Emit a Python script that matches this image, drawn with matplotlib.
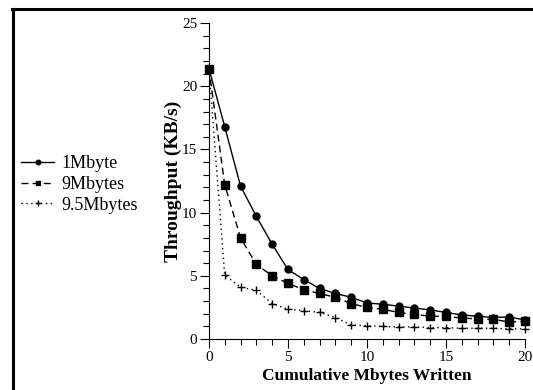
import matplotlib
matplotlib.use("Agg")
import matplotlib.pyplot as plt
from matplotlib.lines import Line2D
from matplotlib.ticker import MultipleLocator

plt.rcParams['font.family'] = ['Liberation Serif', 'DejaVu Serif']

x = list(range(0, 21))
s_1mb = [21.4, 16.8, 12.1, 9.7, 7.5, 5.5, 4.7, 4.0, 3.6, 3.3, 2.85, 2.75, 2.6, 2.45, 2.3, 2.1, 1.9, 1.8, 1.7, 1.75, 1.5]
s_9mb = [21.4, 12.2, 8.0, 5.9, 5.0, 4.4, 3.9, 3.6, 3.3, 2.8, 2.5, 2.35, 2.1, 1.95, 1.8, 1.8, 1.65, 1.6, 1.55, 1.35, 1.4]
s_95mb = [21.4, 5.05, 4.1, 3.85, 2.8, 2.35, 2.25, 2.1, 1.7, 1.1, 1.05, 1.0, 0.95, 0.95, 0.9, 0.9, 0.85, 0.85, 0.85, 0.8, 0.8]
labels = ["1Mbyte", "9Mbytes", "9.5Mbytes"]

fig = plt.figure(figsize=(5.33, 3.9), dpi=100)
ax = fig.add_axes([0.392, 0.1308, 0.593, 0.810])

l1, = ax.plot(x, s_1mb, color='black', lw=1.0, ls='-', marker='o', ms=5, label=labels[0])
l2, = ax.plot(x, s_9mb, color='black', lw=1.0, ls=(0, (5, 3)), marker='s', ms=5.5, label=labels[1])
l3, = ax.plot(x, s_95mb, color='black', lw=1.0, ls=(0, (1, 2.5)), marker='+', ms=6, mew=1.0, label=labels[2])

ax.set_xlim(0, 20)
ax.set_ylim(0, 25)
ax.xaxis.set_major_locator(MultipleLocator(5))
ax.xaxis.set_minor_locator(MultipleLocator(1))
ax.yaxis.set_major_locator(MultipleLocator(5))
ax.yaxis.set_minor_locator(MultipleLocator(1))
for s in ['top', 'right']:
    ax.spines[s].set_visible(False)
ax.tick_params(which='major', direction='out', length=6.5, width=0.8, labelsize=11, pad=2)
ax.tick_params(which='minor', direction='out', length=4, width=0.8)
for ln in (l1, l2, l3):
    ln.set_clip_on(False)

ax.set_xlabel("Cumulative Mbytes Written", fontsize=12.5, fontweight='bold', labelpad=3)
ax.set_ylabel("Throughput (KB/s)", fontsize=14, fontweight='bold', labelpad=0)

fig.legend(handles=[l1, l2, l3], loc='center left', bbox_to_anchor=(0.04, 0.527),
           frameon=False, fontsize=13, handlelength=1.8, handletextpad=0.43,
           labelspacing=0.2, borderaxespad=0, borderpad=0, markerscale=0.65)

# outer frame lines (top and left)
fig.add_artist(Line2D([12/533, 1.0], [1 - 9/390, 1 - 9/390], color='black', lw=2.2, transform=fig.transFigure))
fig.add_artist(Line2D([12.5/533, 12.5/533], [0, 1 - 9/390], color='black', lw=2.2, transform=fig.transFigure))

fig.savefig("out.png", dpi=100)
